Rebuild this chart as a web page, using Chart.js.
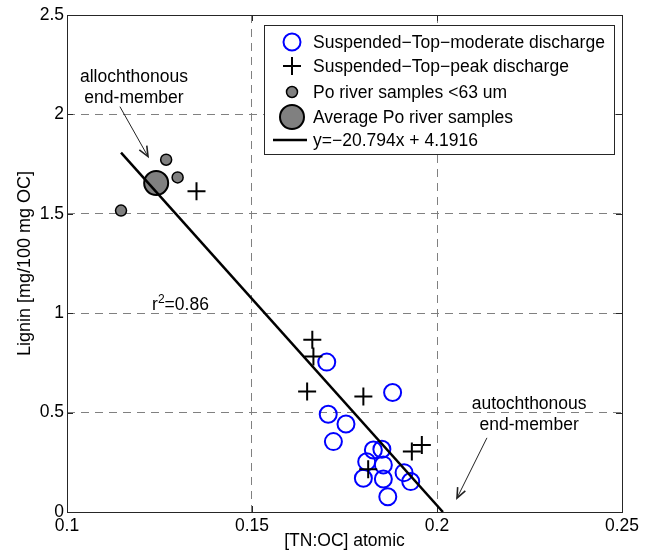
<!DOCTYPE html>
<html>
<head>
<meta charset="UTF-8">
<title>Lignin vs TN:OC</title>
<script src="https://cdn.jsdelivr.net/npm/chart.js@4.4.0/dist/chart.umd.min.js"></script>
<style>
  body { margin: 0; background: #fff; }
  #wrap { width: 651px; height: 552px; }
</style>
</head>
<body>
<div id="wrap"><canvas id="chart" width="651" height="552"></canvas></div>
<script>
  // axis ticks
  const xTicks = [0.1, 0.15, 0.2, 0.25];
  const xTickLabels = ['0.1', '0.15', '0.2', '0.25'];
  const yTicks = [0, 0.5, 1, 1.5, 2, 2.5];
  const yTickLabels = ['0', '0.5', '1', '1.5', '2', '2.5'];

  // Suspended-Top, moderate discharge (blue open circles)
  const modX = [0.1702, 0.1880, 0.1706, 0.1754, 0.1720, 0.1828, 0.1851, 0.1810, 0.1855, 0.1801, 0.1855, 0.1911, 0.1929, 0.1867];
  const modY = [0.754, 0.601, 0.492, 0.443, 0.354, 0.312, 0.316, 0.253, 0.237, 0.170, 0.166, 0.198, 0.153, 0.077];

  // Suspended-Top, peak discharge (crosses)
  const peakX = [0.1350, 0.1663, 0.1666, 0.1649, 0.1801, 0.1814, 0.1932, 0.1959];
  const peakY = [1.613, 0.866, 0.782, 0.606, 0.581, 0.215, 0.304, 0.337];

  // Po river samples <63 um
  const poX = [0.1146, 0.1268, 0.1299];
  const poY = [1.516, 1.772, 1.683];

  // average Po river samples
  const avgX = [0.1241];
  const avgY = [1.655];

  // regression line y=-20.794x + 4.1916, ends
  const fitX = [0.1146, 0.2016];
  const fitY = [1.808, 0];

  const legendLabels = [
    'Suspended\u2212Top\u2212moderate discharge',
    'Suspended\u2212Top\u2212peak discharge',
    'Po river samples <63 um',
    'Average Po river samples',
    'y=\u221220.794x + 4.1916'
  ];

  const FONT = "'Liberation Sans', Arial, sans-serif";
  const pts = (xs, ys) => xs.map((v, i) => ({ x: v, y: ys[i] }));

  // box, inward ticks
  const framePlugin = {
    id: 'frame',
    beforeDatasetsDraw(chart) {
      const { ctx, chartArea: a, scales } = chart;
      const tl = 6;
      ctx.save();
      ctx.strokeStyle = '#262626';
      ctx.lineWidth = 1;
      ctx.beginPath();
      xTicks.forEach(v => {
        const px = Math.round(scales.x.getPixelForValue(v)) + 0.5;
        ctx.moveTo(px, a.bottom); ctx.lineTo(px, a.bottom - tl);
        ctx.moveTo(px, a.top); ctx.lineTo(px, a.top + tl);
      });
      yTicks.forEach(v => {
        const py = Math.round(scales.y.getPixelForValue(v)) + 0.5;
        ctx.moveTo(a.left, py); ctx.lineTo(a.left + tl, py);
        ctx.moveTo(a.right, py); ctx.lineTo(a.right - tl, py);
      });
      ctx.stroke();
      ctx.strokeRect(a.left + 0.5, a.top + 0.5, a.right - a.left, a.bottom - a.top);
      ctx.restore();
    }
  };

  function arrow(ctx, x1, y1, x2, y2) {
    const ang = Math.atan2(y2 - y1, x2 - x1);
    ctx.beginPath();
    ctx.moveTo(x1, y1); ctx.lineTo(x2, y2);
    ctx.stroke();
    ctx.beginPath();
    ctx.moveTo(x2 - 11 * Math.cos(ang - 0.4), y2 - 11 * Math.sin(ang - 0.4));
    ctx.lineTo(x2, y2);
    ctx.lineTo(x2 - 11 * Math.cos(ang + 0.4), y2 - 11 * Math.sin(ang + 0.4));
    ctx.lineWidth = 1.6;
    ctx.stroke();
    ctx.lineWidth = 1;
  }

  const notesPlugin = {
    id: 'notes',
    afterDatasetsDraw(chart) {
      const { ctx, scales: { x, y } } = chart;
      ctx.save();
      ctx.fillStyle = '#000';
      ctx.strokeStyle = '#222';
      ctx.lineWidth = 1;
      ctx.font = '17.5px ' + FONT;
      ctx.textAlign = 'center';
      ctx.textBaseline = 'middle';
      ctx.fillText('allochthonous', x.getPixelForValue(0.1181), y.getPixelForValue(2.185));
      ctx.fillText('end-member', x.getPixelForValue(0.1181), y.getPixelForValue(2.08));
      arrow(ctx, x.getPixelForValue(0.1143), y.getPixelForValue(2.039), x.getPixelForValue(0.1219), y.getPixelForValue(1.788));
      ctx.fillText('autochthonous', x.getPixelForValue(0.2249), y.getPixelForValue(0.544));
      ctx.fillText('end-member', x.getPixelForValue(0.2249), y.getPixelForValue(0.438));
      arrow(ctx, x.getPixelForValue(0.2135), y.getPixelForValue(0.373), x.getPixelForValue(0.2054), y.getPixelForValue(0.07));
      // r^2
      ctx.textAlign = 'left';
      ctx.textBaseline = 'alphabetic';
      let px = x.getPixelForValue(0.123);
      const base = y.getPixelForValue(1.017);
      ctx.fillText('r', px, base);
      px += ctx.measureText('r').width;
      ctx.font = '12px ' + FONT;
      ctx.fillText('2', px, base - 7);
      px += ctx.measureText('2').width;
      ctx.font = '17.5px ' + FONT;
      ctx.fillText('=0.86', px, base);
      ctx.restore();
    }
  };

  const legendPlugin = {
    id: 'boxLegend',
    afterDraw(chart) {
      const { ctx } = chart;
      const bx = 264.5, by = 25.5, bw = 350, bh = 129;
      const rows = [42, 66, 92, 117, 140];
      const sx = 292, tx = 313;
      ctx.save();
      ctx.fillStyle = '#fff';
      ctx.fillRect(bx, by, bw, bh);
      ctx.strokeStyle = '#262626';
      ctx.lineWidth = 1;
      ctx.strokeRect(bx, by, bw, bh);
      const ds = chart.data.datasets;
      // moderate
      ctx.lineWidth = ds[2].borderWidth;
      ctx.strokeStyle = ds[2].borderColor;
      ctx.beginPath(); ctx.arc(sx, rows[0], ds[2].pointRadius, 0, Math.PI * 2); ctx.stroke();
      // peak
      ctx.lineWidth = ds[1].borderWidth;
      ctx.strokeStyle = ds[1].borderColor;
      const r = ds[1].pointRadius;
      ctx.beginPath();
      ctx.moveTo(sx - r, rows[1]); ctx.lineTo(sx + r, rows[1]);
      ctx.moveTo(sx, rows[1] - r); ctx.lineTo(sx, rows[1] + r);
      ctx.stroke();
      // po small, average
      [[3, rows[2]], [4, rows[3]]].forEach(([i, ry]) => {
        ctx.beginPath(); ctx.arc(sx, ry, ds[i].pointRadius, 0, Math.PI * 2);
        ctx.fillStyle = ds[i].backgroundColor; ctx.fill();
        ctx.lineWidth = ds[i].borderWidth; ctx.strokeStyle = ds[i].borderColor; ctx.stroke();
      });
      // fit line
      ctx.lineWidth = ds[0].borderWidth;
      ctx.strokeStyle = ds[0].borderColor;
      ctx.beginPath(); ctx.moveTo(273, rows[4]); ctx.lineTo(307, rows[4]); ctx.stroke();
      ctx.fillStyle = '#000';
      ctx.font = '17.5px ' + FONT;
      ctx.textAlign = 'left';
      ctx.textBaseline = 'middle';
      legendLabels.forEach((t, i) => ctx.fillText(t, tx, rows[i] + 1));
      ctx.restore();
    }
  };

  const gridColor = (edges) => (c) => (c.tick && edges.includes(c.tick.value)) ? 'rgba(0,0,0,0)' : '#808080';

  new Chart(document.getElementById('chart'), {
    type: 'scatter',
    data: {
      datasets: [
        {
          label: legendLabels[4], data: pts(fitX, fitY), showLine: true,
          borderColor: '#000', borderWidth: 2.5, pointRadius: 0, fill: false
        },
        {
          label: legendLabels[1], data: pts(peakX, peakY), pointStyle: 'cross',
          pointRadius: 9, borderColor: '#000', borderWidth: 2
        },
        {
          label: legendLabels[0], data: pts(modX, modY), pointStyle: 'circle',
          pointRadius: 8.5, borderColor: '#0000ff', backgroundColor: 'rgba(0,0,0,0)', borderWidth: 2
        },
        {
          label: legendLabels[2], data: pts(poX, poY), pointStyle: 'circle',
          pointRadius: 5.5, borderColor: '#000', backgroundColor: '#808080', borderWidth: 1.5
        },
        {
          label: legendLabels[3], data: pts(avgX, avgY), pointStyle: 'circle',
          pointRadius: 12, borderColor: '#000', backgroundColor: '#808080', borderWidth: 2
        }
      ]
    },
    options: {
      responsive: false,
      animation: false,
      events: [],
      devicePixelRatio: 1,
      layout: { padding: { left: 0, top: 15, right: 29, bottom: 0 } },
      plugins: { legend: { display: false }, tooltip: { enabled: false } },
      scales: {
        x: {
          type: 'linear', min: 0.1, max: 0.25,
          afterFit: s => { s.height = 40; },
          afterBuildTicks: s => { s.ticks = xTicks.map(v => ({ value: v })); },
          grid: { drawTicks: false, color: gridColor([0.1, 0.25]), lineWidth: 1 },
          border: { display: false, dash: [8, 6] },
          ticks: {
            padding: 4, color: '#000', font: { family: FONT, size: 17.5 },
            maxRotation: 0, autoSkip: false,
            callback: (v, i) => xTickLabels[i]
          },
          title: {
            display: true, text: '[TN:OC] atomic', color: '#000',
            font: { family: FONT, size: 17.5 }, padding: { top: 0, bottom: 0 }
          }
        },
        y: {
          type: 'linear', min: 0, max: 2.5,
          afterFit: s => { s.width = 67; },
          afterBuildTicks: s => { s.ticks = yTicks.map(v => ({ value: v })); },
          grid: { drawTicks: false, color: gridColor([0, 2.5]), lineWidth: 1 },
          border: { display: false, dash: [8, 6] },
          ticks: {
            padding: 3, color: '#000', font: { family: FONT, size: 17.5 },
            autoSkip: false,
            callback: (v, i) => yTickLabels[i]
          },
          title: {
            display: true, text: 'Lignin [mg/100 mg OC]', color: '#000',
            font: { family: FONT, size: 18 }, padding: { top: 14, bottom: 0 }
          }
        }
      }
    },
    plugins: [framePlugin, notesPlugin, legendPlugin]
  });
</script>
</body>
</html>
